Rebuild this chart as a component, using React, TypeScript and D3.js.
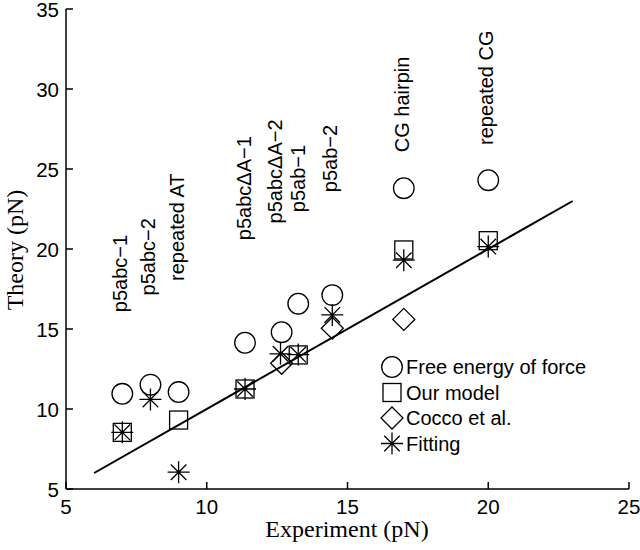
import React from "react";
import * as d3 from "d3";

// ---- data ----
const circleX = [7, 8, 9, 11.36, 12.66, 13.25, 14.46, 17, 20];
const circleY = [10.95, 11.52, 11.06, 14.14, 14.8, 16.58, 17.12, 23.8, 24.3];

const squareX = [7, 9, 11.36, 13.25, 17, 20];
const squareY = [8.54, 9.31, 11.25, 13.38, 19.94, 20.52];

const diamondX = [12.66, 14.46, 17];
const diamondY = [12.86, 15.05, 15.6];

const starX = [7, 8, 9, 11.36, 12.62, 13.25, 14.46, 17, 20];
const starY = [8.54, 10.6, 6.05, 11.25, 13.45, 13.4, 15.88, 19.3, 20.15];

const lineX = [6, 23];
const lineY = [6, 23];

const labelText = [
  "p5abc\u22121",
  "p5abc\u22122",
  "repeated AT",
  "p5abc\u0394A\u22121",
  "p5abc\u0394A\u22122",
  "p5ab\u22121",
  "p5ab\u22122",
  "CG hairpin",
  "repeated CG",
];
const labelX = [7, 8, 9, 11.4, 12.5, 13.3, 14.45, 17, 20];
const labelY = [16.05, 17.1, 18.0, 20.55, 21.6, 22.3, 23.55, 26.05, 26.5];

const legendLabels = ["Free energy of force", "Our model", "Cocco et al.", "Fitting"];
const xTicks = [5, 10, 15, 20, 25];
const yTicks = [5, 10, 15, 20, 25, 30, 35];

const SANS = "'Liberation Sans', Arial, Helvetica, sans-serif";
const SERIF = "'Liberation Serif', 'Times New Roman', serif";

const W = 640;
const H = 550;
const x = d3.scaleLinear().domain([5, 25]).range([66, 629]);
const y = d3.scaleLinear().domain([5, 35]).range([489, 9]);

const SW = 1.3;

function Circle({ cx, cy }: { cx: number; cy: number }) {
  return <circle cx={cx} cy={cy} r={10.3} fill="none" stroke="#000" strokeWidth={SW} />;
}
function Square({ cx, cy }: { cx: number; cy: number }) {
  return <rect x={cx - 9} y={cy - 9} width={18} height={18} fill="none" stroke="#000" strokeWidth={SW} />;
}
function Diamond({ cx, cy }: { cx: number; cy: number }) {
  const r = 11;
  return (
    <path
      d={`M${cx},${cy - r}L${cx + r},${cy}L${cx},${cy + r}L${cx - r},${cy}Z`}
      fill="none"
      stroke="#000"
      strokeWidth={SW}
    />
  );
}
function Star({ cx, cy }: { cx: number; cy: number }) {
  const r = 11;
  const d = r / Math.SQRT2;
  return (
    <path
      d={`M${cx - r},${cy}L${cx + r},${cy}M${cx},${cy - r}L${cx},${cy + r}M${cx - d},${cy - d}L${cx + d},${cy + d}M${cx - d},${cy + d}L${cx + d},${cy - d}`}
      fill="none"
      stroke="#000"
      strokeWidth={SW}
    />
  );
}

export default function App() {
  const line = d3
    .line<number>()
    .x((d) => x(d))
    .y((_, i) => y(lineY[i]));

  const legendTop = 367;
  const legendStep = 25.5;
  const legendMarkX = 392;
  const markers = [Circle, Square, Diamond, Star];

  return (
    <svg
      width={W}
      height={H}
      style={{ position: "absolute", left: 0, top: 0, background: "#fff" }}
    >
      <rect x={0} y={0} width={W} height={H} fill="#fff" />
      {/* axes */}
      <line x1={x(5)} x2={x(25)} y1={y(5)} y2={y(5)} stroke="#000" strokeWidth={1.5} />
      <line x1={x(5)} x2={x(5)} y1={y(5)} y2={y(35)} stroke="#000" strokeWidth={1.5} />
      {xTicks.map((t) => (
        <g key={"xt" + t}>
          <line x1={x(t)} x2={x(t)} y1={y(5)} y2={y(5) - 7} stroke="#000" strokeWidth={1.5} />
          <text x={x(t)} y={514} textAnchor="middle" fontFamily={SANS} fontSize={20.5}>
            {t}
          </text>
        </g>
      ))}
      {yTicks.map((t) => (
        <g key={"yt" + t}>
          <line x1={x(5)} x2={x(5) + 7} y1={y(t)} y2={y(t)} stroke="#000" strokeWidth={1.5} />
          <text x={59} y={y(t) + 7.5} textAnchor="end" fontFamily={SANS} fontSize={20.5}>
            {t}
          </text>
        </g>
      ))}
      <text x={347} y={537} textAnchor="middle" fontFamily={SERIF} fontSize={24}>
        Experiment (pN)
      </text>
      <text
        transform={`translate(23,250) rotate(-90)`}
        textAnchor="middle"
        fontFamily={SERIF}
        fontSize={24}
      >
        Theory (pN)
      </text>

      {/* fit line */}
      <path d={line(lineX) || ""} fill="none" stroke="#000" strokeWidth={2} />

      {/* markers */}
      {circleX.map((v, i) => (
        <Circle key={"c" + i} cx={x(v)} cy={y(circleY[i])} />
      ))}
      {squareX.map((v, i) => (
        <Square key={"s" + i} cx={x(v)} cy={y(squareY[i])} />
      ))}
      {diamondX.map((v, i) => (
        <Diamond key={"d" + i} cx={x(v)} cy={y(diamondY[i])} />
      ))}
      {starX.map((v, i) => (
        <Star key={"a" + i} cx={x(v)} cy={y(starY[i])} />
      ))}

      {/* labels */}
      {labelText.map((t, i) => (
        <text
          key={"l" + i}
          transform={`translate(${x(labelX[i]) + 5},${y(labelY[i])}) rotate(-90)`}
          fontFamily={SANS}
          fontSize={20}
        >
          {t}
        </text>
      ))}

      {/* legend */}
      {legendLabels.map((t, i) => {
        const M = markers[i];
        const cy = legendTop + i * legendStep;
        return (
          <g key={"lg" + i}>
            <M cx={legendMarkX} cy={cy} />
            <text x={406} y={cy + 7} fontFamily={SANS} fontSize={20}>
              {t}
            </text>
          </g>
        );
      })}
    </svg>
  );
}
